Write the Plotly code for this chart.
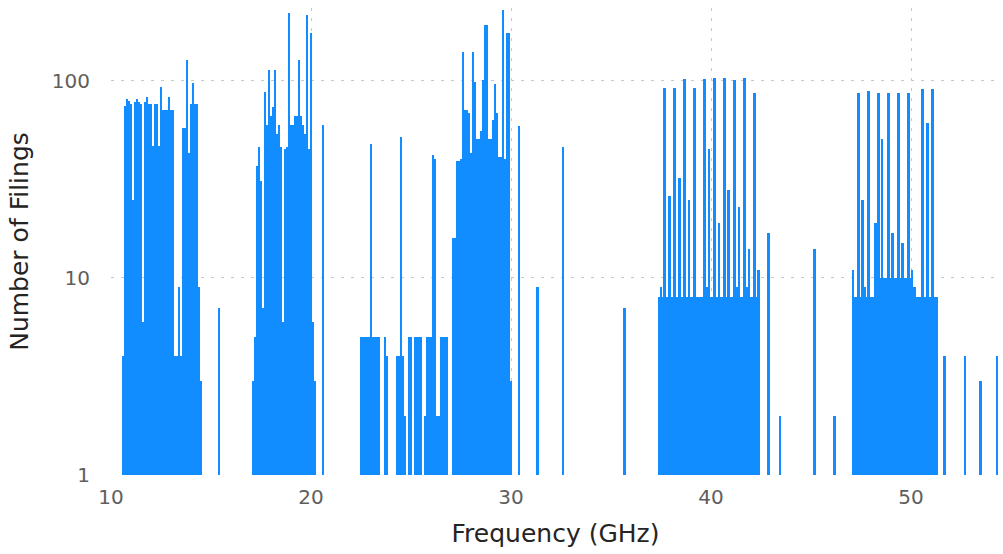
import numpy as np
import plotly.graph_objects as go

# ---- data: filings per 0.1 GHz frequency bin (dense bands) ----
band1_start = 10.6
band1_counts = [4, 75, 81, 79, 76, 25, 78, 81, 78, 76, 6, 78, 83, 76, 76, 47, 76, 76, 47, 93,
                71, 71, 71, 83, 71, 71, 4, 4, 9, 4, 58, 58, 128, 43, 76, 98, 76, 76, 9, 3]

band2_start = 17.1
band2_counts = [3, 5, 37, 46, 31, 7, 88, 60, 114, 66, 74, 114, 54, 60, 46, 6, 45, 46, 220, 60,
                60, 66, 66, 128, 66, 60, 54, 216, 45, 175, 6, 3]

band3_start = 22.5
band3_counts = [5, 5, 5, 5, 5, 48, 5, 5, 5, 5, 0, 0, 5, 4]

band3b_start = 24.3
band3b_counts = [4, 4, 52, 4, 2, 0, 5, 5, 0, 5, 5, 5, 5, 0, 2, 5, 5, 5, 42, 40, 2, 2, 5, 5, 5, 5]

band4_start = 27.1
band4_counts = [16, 16, 39, 39, 40, 141, 71, 71, 69, 43, 141, 99, 51, 51, 56, 101, 192, 192, 51, 51,
                63, 97, 69, 41, 41, 229, 40, 175, 175, 3]

band5_start = 37.4
band5_counts = [8, 9, 8, 8, 8, 9, 8, 8, 9, 8, 8, 8, 8, 9, 8, 8, 8, 8, 9, 8,
                8, 8, 8, 8, 9, 8, 8, 8, 9, 8, 8, 8, 8, 8, 8, 9, 8, 8, 8, 9,
                8, 8, 8, 8, 9, 8, 8, 8, 8, 8, 7]

band6_start = 47.1
band6_counts = [11, 8, 8, 9, 8, 8, 9, 8, 8, 8, 8, 8, 8,
                10, 10, 10, 10, 10, 10, 10, 10, 10, 10, 10, 10, 10, 10, 10, 10, 10,
                9, 9, 8, 8, 8, 8, 8, 8, 8, 8, 9, 8, 8]

# ---- individual frequencies (spikes and isolated filings) ----
spike_freq = [37.66, 37.91, 38.16, 38.41, 38.66, 38.90, 39.17, 39.67, 39.90, 40.17,
              40.40, 40.67, 40.87, 41.16, 41.40, 41.67, 41.90, 42.17, 42.37,
              47.37, 47.57, 47.87, 48.22, 48.37, 48.55, 48.87, 49.07, 49.37, 49.57,
              49.87, 50.05, 50.57, 50.82, 51.07,
              15.40, 20.60, 30.40, 31.33, 32.60, 35.67, 42.88, 43.45, 45.17, 46.17,
              51.67, 52.70, 53.48, 54.30]
spike_counts = [92, 26, 92, 32, 102, 25, 92, 102, 45, 104,
                19, 104, 28, 101, 23, 103, 14, 87, 11,
                87, 25, 89, 19, 87, 51, 87, 17, 87, 15,
                87, 11, 91, 61, 91,
                7, 60, 59, 9, 46, 7, 17, 2, 14, 2,
                4, 4, 3, 4]

x_ticks = [10, 20, 30, 40, 50]
y_ticks = [1, 10, 100]
y_tick_labels = ["1", "10", "100"]

BIN = 0.1
bands = [(band1_start, band1_counts), (band2_start, band2_counts), (band3_start, band3_counts),
         (band3b_start, band3b_counts), (band4_start, band4_counts), (band5_start, band5_counts),
         (band6_start, band6_counts)]

xs, ys = [], []
for start, counts in bands:
    for i, c in enumerate(counts):
        if c > 0:
            xs.append(round(start + BIN * i, 2))
            ys.append(c)
for f, c in zip(spike_freq, spike_counts):
    xs.append(f)
    ys.append(c)

fig = go.Figure(go.Bar(x=xs, y=ys, width=0.13,
                       marker=dict(color="#118DFF", line=dict(width=0)),
                       hovertemplate="%{x} GHz: %{y}<extra></extra>"))

grid = "#C8C8C8"
dash = "3px,7px"
fig.update_layout(
    width=1003, height=554,
    margin=dict(l=111, r=3, t=8, b=79, autoexpand=False),
    plot_bgcolor="white", paper_bgcolor="white",
    showlegend=False, barmode="overlay", bargap=0,
    font=dict(family="DejaVu Sans"),
)
fig.update_xaxes(
    range=[10, 54.45], tickvals=x_ticks, showgrid=True, gridcolor=grid, griddash=dash,
    gridwidth=1, zeroline=False, showline=False, ticks="", automargin=False,
    tickfont=dict(size=20, color="#605E5C"), ticklabelstandoff=8,
    title=dict(text="Frequency (GHz)", font=dict(size=25, color="#252423"), standoff=16),
)
fig.update_yaxes(
    type="log", range=[0, 2.37], tickvals=y_ticks, ticktext=y_tick_labels,
    showgrid=True, gridcolor=grid, griddash=dash, gridwidth=1,
    zeroline=False, showline=False, ticks="", automargin=False,
    tickfont=dict(size=20, color="#605E5C"), ticklabelstandoff=20,
    title=dict(text="Number of Filings", font=dict(size=25, color="#252423"), standoff=16),
)

# remove the default page margin / scrollbars so the figure fills the window exactly
fig.write_html(
    "out.html",
    config={"displayModeBar": False},
    post_script="document.body.style.margin='0';"
                "document.documentElement.style.overflow='hidden';"
                "document.body.style.overflow='hidden';",
)
